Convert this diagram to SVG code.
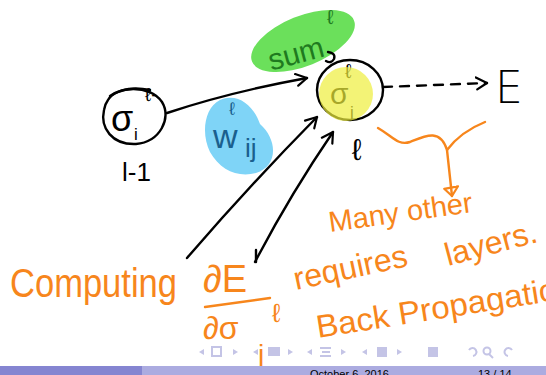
<svg xmlns="http://www.w3.org/2000/svg" width="546" height="375" viewBox="0 0 546 375">
<style>
.ink{fill:none;stroke:#000;stroke-width:2.4;stroke-linecap:round;stroke-linejoin:round}
.org{fill:none;stroke:#f7861c;stroke-width:2.4;stroke-linecap:round;stroke-linejoin:round}
.hw{font-family:"Liberation Sans","DejaVu Sans",sans-serif}
.ot{font-family:"Liberation Sans","DejaVu Sans",sans-serif;fill:#f7861c}
.nav{fill:#c4c4e6}
</style>
<defs>
<marker id="chev" viewBox="-12 -8 14 16" markerWidth="14" markerHeight="16" refX="0" refY="0" orient="auto" markerUnits="userSpaceOnUse">
<path d="M-11 -6 L0 0 L-10 6" fill="none" stroke="#000" stroke-width="2.2" stroke-linecap="round" stroke-linejoin="round"/>
</marker>
<marker id="otri" viewBox="-10 -10 20 20" markerWidth="20" markerHeight="20" refX="0" refY="0" orient="auto" markerUnits="userSpaceOnUse">
<path d="M0 0 L-9 -7 L-8 7 Z" fill="none" stroke="#f7861c" stroke-width="2.2" stroke-linejoin="round"/>
</marker>
</defs>
<rect width="546" height="375" fill="#fff"/>

<g id="blob-sum">
<ellipse cx="303" cy="41" rx="55" ry="25" transform="rotate(-22 303 41)" fill="#6be05b"/>
<text class="hw" x="268" y="64" font-size="30" fill="#1f7a1f" transform="rotate(-15 295 55)">sum</text>
<text class="hw" x="327" y="24" font-size="20" fill="#1f7a1f">ℓ</text>
<path class="ink" d="M328 52 Q336 53 334 59 Q331 64 326 61" stroke-width="1.6"/>
</g>

<g id="blob-w">
<path d="M220 100 C238 92 254 106 260 124 C278 140 278 166 256 173 C238 178 220 170 210 152 C201 134 204 108 220 100 Z" fill="#7fd4f7"/>
<text class="hw" x="213" y="148" font-size="34" fill="#1a5f8e">w</text>
<text class="hw" x="229" y="115" font-size="18" fill="#1a5f8e">ℓ</text>
<text class="hw" x="245" y="157" font-size="26" fill="#1a5f8e">ij</text>
</g>

<g id="node-left">
<path class="ink" d="M108 100 C116 86 150 84 162 102 C172 118 160 142 136 144 C112 145 100 128 104 110 Q105 104 108 100"/>
<path class="ink" d="M110 96 Q126 85 150 90" stroke-width="2"/>
<text class="hw" x="111" y="131" font-size="36">σ</text>
<text class="hw" x="145" y="101" font-size="19">ℓ-</text>
<text class="hw" x="134" y="140" font-size="17">i</text>
<text class="hw" x="122" y="181" font-size="26">l-1</text>
</g>

<g id="node-right">
<ellipse cx="350" cy="90" rx="33" ry="30" class="ink"/>
<text class="hw" x="330" y="104" font-size="30">σ</text>
<text class="hw" x="345" y="78" font-size="20">ℓ</text>
<text class="hw" x="350" y="118" font-size="17">j</text>
<circle cx="346" cy="94" r="27" fill="#eeee3c" opacity="0.7"/>
<text class="hw" x="352" y="160" font-size="30">ℓ</text>
</g>

<g id="node-E">
<text x="495" y="103" font-family="DejaVu Sans,sans-serif" font-weight="200" font-size="44">E</text>
</g>

<g id="connectors">
<path class="ink" d="M167 113 Q230 92 307 78" marker-end="url(#chev)"/>
<path class="ink" d="M187 258 Q250 185 317 117" marker-end="url(#chev)"/>
<path class="ink" d="M255 262 Q290 195 333 132" marker-end="url(#chev)"/>
<path class="ink" d="M256 262 L256 250" stroke-width="2"/>
<path class="ink" d="M383 87 L487 83" stroke-dasharray="9 8" marker-end="url(#chev)"/>
<path class="org" d="M378 128 C392 136 398 146 410 142 C425 136 440 128 447 150 C456 138 470 128 485 122"/>
<path class="org" d="M447 150 L452 196" marker-end="url(#otri)"/>
</g>

<g id="annotations">
<text class="ot" x="10" y="297" font-size="40" textLength="167" lengthAdjust="spacingAndGlyphs">Computing</text>
<text class="ot" x="203" y="292" font-size="38">∂E</text>
<path class="org" d="M205 307 L270 298"/>
<text class="ot" x="203" y="339" font-size="32">∂σ</text>
<text class="ot" x="272" y="322" font-size="26">ℓ</text>
<text class="ot" x="258" y="364" font-size="28">j</text>
<text class="ot" x="296" y="290" font-size="32" transform="rotate(-12 296 290)">requires</text>
<text class="ot" x="330" y="232" font-size="29" transform="rotate(-8 330 232)">Many other</text>
<text class="ot" x="448" y="266" font-size="32" transform="rotate(-15 448 266)">layers.</text>
<text class="ot" x="318" y="338" font-size="32" textLength="262" lengthAdjust="spacingAndGlyphs" transform="rotate(-9 318 338)">Back Propagation</text>
</g>

<g id="nav">
<path class="nav" d="M204 349 L199 352 L204 355 Z"/>
<rect x="212" y="347" width="9" height="9" fill="none" stroke="#c4c4e6" stroke-width="2"/>
<path class="nav" d="M233 349 L238 352 L233 355 Z"/>
<path class="nav" d="M258 349 L253 352 L258 355 Z"/>
<rect x="268" y="347" width="12" height="9" class="nav"/>
<path class="nav" d="M288 349 L293 352 L288 355 Z"/>
<path class="nav" d="M312 349 L307 352 L312 355 Z"/>
<path d="M320 348 H331 M322 352 H330 M320 356 H331" stroke="#c4c4e6" stroke-width="2"/>
<path class="nav" d="M341 349 L346 352 L341 355 Z"/>
<path class="nav" d="M367 349 L362 352 L367 355 Z"/>
<rect x="377" y="347" width="10" height="10" class="nav"/>
<path class="nav" d="M397 349 L402 352 L397 355 Z"/>
<rect x="428" y="347" width="10" height="10" class="nav"/>
<path d="M469 350 A4 4 0 1 1 473 356" fill="none" stroke="#c4c4e6" stroke-width="2"/>
<circle cx="487" cy="351" r="3.5" fill="none" stroke="#c4c4e6" stroke-width="2"/>
<path d="M489 354 L493 358" stroke="#c4c4e6" stroke-width="2"/>
<path d="M512 350 A4 4 0 1 0 508 356" fill="none" stroke="#c4c4e6" stroke-width="2"/>
</g>

<g id="footer">
<rect x="0" y="366" width="142" height="9" fill="#8585d1"/>
<rect x="142" y="366" width="404" height="9" fill="#ababe0"/>
<text class="hw" x="310" y="378" font-size="11" fill="#000">October 6, 2016</text>
<text class="hw" x="478" y="378" font-size="11" fill="#000">13 / 14</text>
</g>
</svg>
